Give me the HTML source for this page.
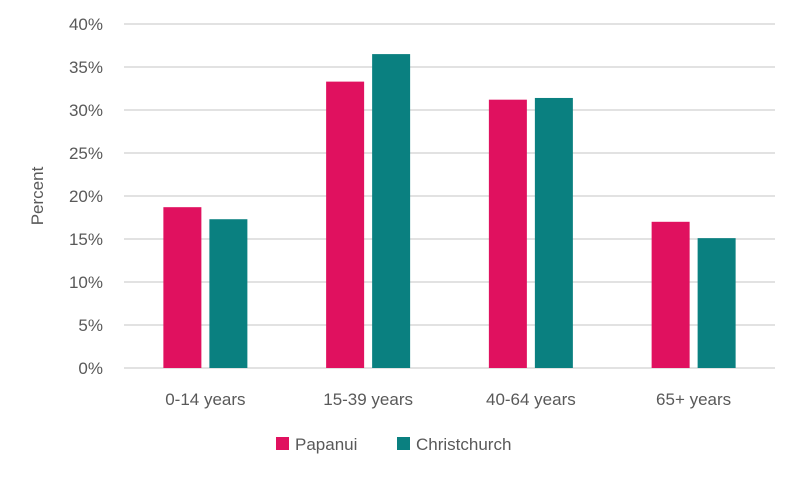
<!DOCTYPE html>
<html><head><meta charset="utf-8"><style>
body{margin:0;background:#fff;}
svg{display:block;font-family:"Liberation Sans",sans-serif;}
</style></head><body>
<svg id="chart" width="800" height="479"></svg>
<script>
const categories=["0-14 years","15-39 years","40-64 years","65+ years"];
const papanui=[18.7,33.3,31.2,17.0];
const christchurch=[17.3,36.5,31.4,15.1];
const ticks=[0,5,10,15,20,25,30,35,40];
const NS="http://www.w3.org/2000/svg";
const svg=document.getElementById("chart");
const x0=124,x1=775,y0=368,y1=24,maxV=40;
const y=v=>y0-(v/maxV)*(y0-y1);
const groupW=(x1-x0)/categories.length;
const gx=i=>x0+groupW*(i+0.5);
function mk(tag,attrs,text){const e=document.createElementNS(NS,tag);for(const k in attrs)e.setAttribute(k,attrs[k]);if(text!==undefined)e.textContent=text;svg.appendChild(e);return e;}
ticks.forEach(t=>{
  const l=mk("line",{x1:x0,x2:x1,y1:y(t),y2:y(t),stroke:"#d9d9d9","stroke-width":1.5});
  
  
  const tx=mk("text",{x:103,y:y(t)+6,"text-anchor":"end","font-size":17,fill:"#595959"},t+"%");
  
  
});
const yt=mk("text",{x:0,y:0,transform:"translate(43,196) rotate(-90)","text-anchor":"middle","font-size":17,fill:"#595959"},"Percent");


const bw=38,gap=8;
categories.forEach((c,i)=>{
  const cx=gx(i);
  const b1=mk("rect",{x:cx-gap/2-bw,y:y(papanui[i]),width:bw,height:y0-y(papanui[i]),fill:"#e0115f"});
  
  
  const b2=mk("rect",{x:cx+gap/2,y:y(christchurch[i]),width:bw,height:y0-y(christchurch[i]),fill:"#0a8080"});
  
  
  const lb=mk("text",{x:cx,y:405,"text-anchor":"middle","font-size":17,fill:"#595959"},c);
  
  
});
const legend=[["Papanui","#e0115f",276],["Christchurch","#0a8080",397]];
legend.forEach(([n,col,lx])=>{
  const r=mk("rect",{x:lx,y:437,width:13,height:13,fill:col});
  
  
  const t=mk("text",{x:lx+19,y:450,"font-size":17,fill:"#595959"},n);
  
  
});
</script>
</body></html>
